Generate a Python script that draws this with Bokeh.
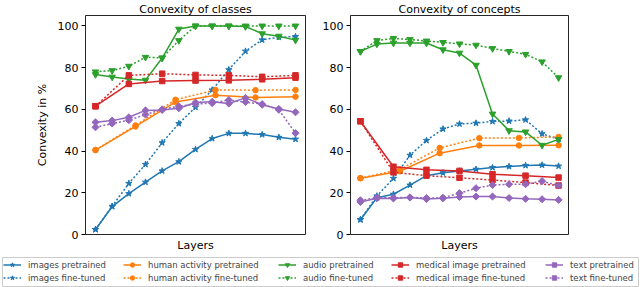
import math
from bokeh.plotting import figure
from bokeh.layouts import column, row
from bokeh.models import Range1d, Legend, LegendItem, FixedTicker
from bokeh.embed import file_html
from bokeh.resources import INLINE

FONT = "DejaVu Sans"

# ---- data -------------------------------------------------------------
layers_13 = list(range(13))
layers_medical = [0, 2, 4, 6, 8, 10, 12]
layers_human = [0, 2.4, 4.8, 7.2, 9.6, 12]
y_ticks = [0, 20, 40, 60, 80, 100]

# Convexity of classes
images_pre_cls = [2.4, 13.4, 19.6, 25.1, 30.5, 34.9, 40.8, 46.0, 48.5, 48.5, 47.9, 46.6, 45.7]
images_ft_cls = [2.4, 13.5, 24.5, 33.6, 44.0, 53.2, 61.0, 69.3, 79.0, 87.9, 93.3, 94.6, 94.9]
human_pre_cls = [40.5, 51.8, 63.5, 66.8, 65.7, 66.1]
human_ft_cls = [40.5, 52.3, 64.6, 69.3, 69.2, 69.3]
audio_pre_cls = [76.7, 75.5, 74.5, 74.0, 84.6, 98.5, 100.0, 100.0, 100.0, 99.7, 96.3, 95.1, 93.2]
audio_ft_cls = [78.0, 78.6, 80.7, 85.0, 84.7, 93.0, 100.0, 100.0, 100.0, 100.0, 100.0, 100.0, 100.0]
medical_pre_cls = [61.5, 72.2, 73.6, 73.8, 73.9, 74.4, 75.2]
medical_ft_cls = [61.5, 76.3, 77.1, 76.5, 76.3, 75.6, 76.3]
text_pre_cls = [53.8, 54.6, 56.2, 59.5, 59.7, 60.5, 63.3, 63.6, 62.8, 65.5, 62.2, 60.2, 58.6]
text_ft_cls = [51.4, 53.2, 54.8, 57.5, 60.0, 61.5, 62.5, 63.0, 64.5, 63.5, 62.5, 59.8, 48.6]

# Convexity of concepts
images_pre_con = [7.1, 17.6, 19.3, 23.7, 28.2, 29.6, 30.4, 31.3, 32.1, 32.6, 33.1, 33.3, 32.8]
images_ft_con = [7.1, 18.5, 26.9, 38.0, 45.1, 50.6, 53.0, 53.4, 54.2, 54.4, 55.0, 48.3, 45.7]
human_pre_con = [27.0, 30.3, 39.0, 42.7, 42.7, 42.8]
human_ft_con = [27.0, 31.2, 41.5, 46.2, 46.3, 46.8]
audio_pre_con = [87.8, 91.3, 91.8, 91.8, 91.8, 88.6, 87.0, 81.2, 57.8, 49.8, 49.2, 42.8, 45.6]
audio_ft_con = [87.8, 93.0, 94.0, 93.5, 92.8, 92.1, 91.4, 90.8, 89.2, 87.8, 86.4, 82.8, 75.2]
medical_pre_con = [54.3, 32.5, 31.0, 30.5, 28.9, 28.2, 27.3]
medical_ft_con = [54.3, 29.8, 28.2, 27.2, 26.1, 24.9, 23.5]
text_pre_con = [15.6, 17.4, 17.3, 17.7, 17.0, 17.4, 18.0, 18.2, 18.2, 17.5, 17.1, 16.9, 16.6]
text_ft_con = [16.4, 17.6, 17.6, 17.8, 17.5, 17.6, 19.8, 22.2, 23.7, 24.1, 24.1, 25.6, 23.5]

names = ["images", "human activity", "audio", "medical image", "text"]
colors = ["#1f77b4", "#ff7f0e", "#2ca02c", "#d62728", "#9467bd"]
markers = ["star", "circle", "inverted_triangle", "square", "square"]
marker_sizes = [6.5, 5.5, 6.5, 5.5, 5]
marker_angles = [0, 0, 0, 0, math.pi / 4]
xs = [layers_13, layers_human, layers_13, layers_medical, layers_13]
cls_data = [(images_pre_cls, images_ft_cls), (human_pre_cls, human_ft_cls),
            (audio_pre_cls, audio_ft_cls), (medical_pre_cls, medical_ft_cls),
            (text_pre_cls, text_ft_cls)]
con_data = [(images_pre_con, images_ft_con), (human_pre_con, human_ft_con),
            (audio_pre_con, audio_ft_con), (medical_pre_con, medical_ft_con),
            (text_pre_con, text_ft_con)]

DOT = "2 2"
H = 254


def make_panel(title, ylabel, width, bl, br, data):
    p = figure(width=width, height=H, x_range=Range1d(-0.6, 12.6), y_range=Range1d(0, 105),
               toolbar_location=None, output_backend="svg", title=title,
               min_border_left=bl, min_border_right=br, min_border_top=15, min_border_bottom=17)
    p.title.text_font = FONT
    p.title.text_font_size = "11px"
    p.title.text_font_style = "normal"
    p.title.align = "center"
    p.title.text_color = "black"
    p.title.standoff = 0
    p.title.text_line_height = 1.0
    p.grid.visible = False
    p.outline_line_color = "black"
    p.outline_line_alpha = 0.85
    p.outline_line_width = 1
    xa = p.xaxis[0]
    xa.ticker = FixedTicker(ticks=[])
    xa.major_label_text_font_size = "0px"
    xa.axis_line_color = None
    xa.major_tick_line_color = None
    xa.minor_tick_line_color = None
    xa.axis_label = "Layers"
    xa.axis_label_text_font = FONT
    xa.axis_label_text_font_size = "11px"
    xa.axis_label_text_font_style = "normal"
    xa.axis_label_text_color = "black"
    xa.axis_label_standoff = 4
    ya = p.yaxis[0]
    ya.ticker = FixedTicker(ticks=y_ticks)
    ya.axis_line_color = None
    ya.minor_tick_line_color = None
    ya.major_tick_out = 4
    ya.major_tick_in = 0
    ya.major_label_standoff = 3
    ya.major_label_text_font = FONT
    ya.major_label_text_font_size = "11px"
    ya.major_label_text_color = "black"
    if ylabel:
        ya.axis_label = ylabel
        ya.axis_label_text_font = FONT
        ya.axis_label_text_font_size = "11px"
        ya.axis_label_text_font_style = "normal"
        ya.axis_label_text_color = "black"
        ya.axis_label_standoff = 6
    for i in range(5):
        pre, ft = data[i]
        for vals, dash in ((pre, "solid"), (ft, DOT)):
            p.line(xs[i], vals, line_color=colors[i], line_width=1.5, line_dash=dash)
            p.scatter(xs[i], vals, marker=markers[i], size=marker_sizes[i], angle=marker_angles[i],
                      fill_color=colors[i], line_color=colors[i])
    return p


p1 = make_panel("Convexity of classes", "Convexity in %", 319, 85, 14, cls_data)
p2 = make_panel("Convexity of concepts", None, 321, 29, 72, con_data)

# ---- legend ------------------------------------------------------------
pleg = figure(width=640, height=33, x_range=Range1d(0, 1), y_range=Range1d(0, 1),
              toolbar_location=None, output_backend="svg",
              x_axis_location=None, y_axis_location=None,
              min_border_left=2, min_border_right=2, min_border_top=3, min_border_bottom=1)
pleg.grid.visible = False
pleg.outline_line_color = "#cccccc"
pleg.outline_line_width = 1

col_x = [1, 121, 276, 389, 543]
for i in range(5):
    items = []
    for suffix, dash in (("pretrained", "solid"), ("fine-tuned", DOT)):
        l = pleg.line([-10, -9], [0, 0], line_color=colors[i], line_width=1.5, line_dash=dash)
        s = pleg.scatter([-10], [0], marker=markers[i], size=marker_sizes[i], angle=marker_angles[i],
                         fill_color=colors[i], line_color=colors[i])
        items.append(LegendItem(label=f"{names[i]} {suffix}", renderers=[l, s]))
    leg = Legend(items=items, location=(col_x[i], 3), orientation="vertical",
                 padding=0, margin=0, spacing=2, glyph_width=18, glyph_height=11,
                 label_height=11, label_standoff=7, label_text_font=FONT,
                 label_text_font_size="8.5px", border_line_color=None,
                 background_fill_alpha=0)
    pleg.add_layout(leg)

layout = column(row(p1, p2), pleg)
open("out.html", "w").write(file_html(layout, INLINE))
